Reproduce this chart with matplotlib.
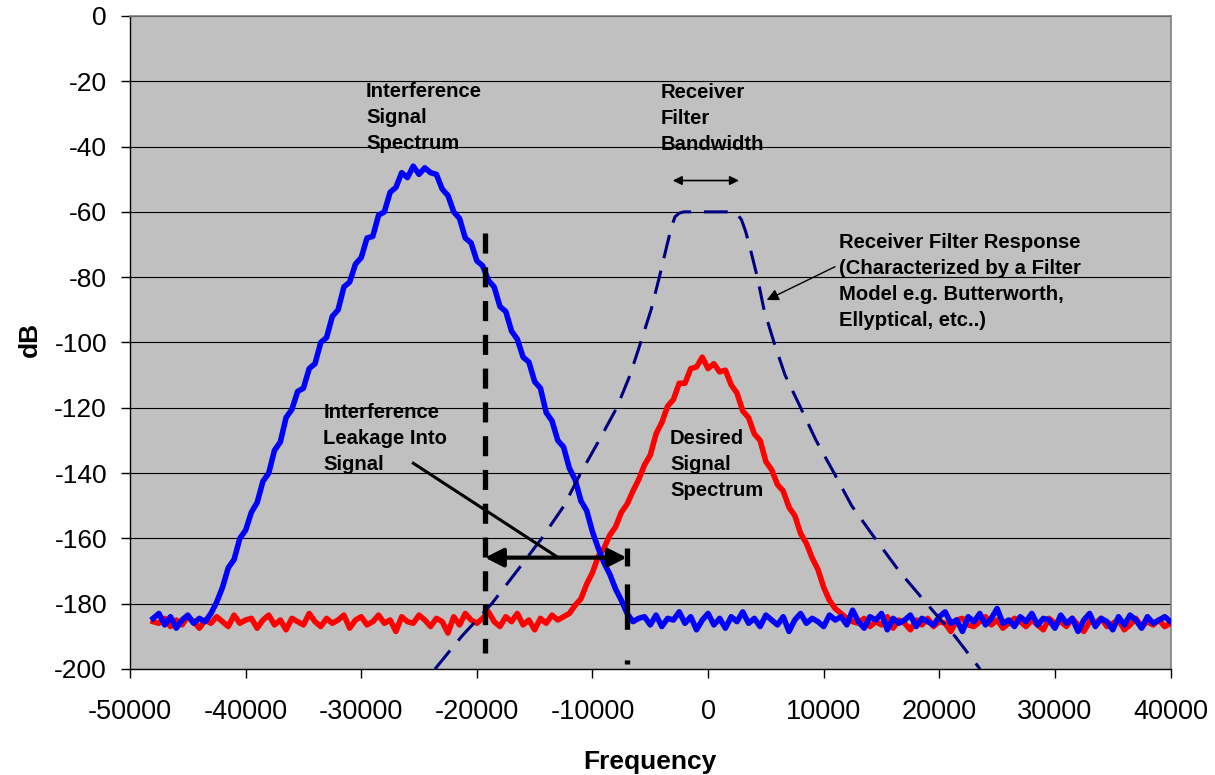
import matplotlib
matplotlib.use("Agg")
import matplotlib.pyplot as plt
import numpy as np
from matplotlib.patches import ArrowStyle

plt.rcParams['font.family'] = ['Liberation Sans', 'DejaVu Sans']

# spectrum bins, 500 Hz apart
freq = np.arange(-48000, 40001, 500)

interference_db = [
    -184.5, -183.0, -186.5, -184.0, -187.5, -185.0, -183.5, -186.0, -184.5, -185.5,
    -183.0, -179.5, -175.0, -169.0, -166.5, -160.0, -157.5, -152.0, -149.0, -142.5,
    -140.0, -133.0, -130.5, -123.0, -120.5, -115.0, -114.0, -108.0, -106.5, -100.0,
    -98.5, -92.0, -90.0, -83.0, -81.5, -76.0, -74.0, -68.0, -67.5, -61.0,
    -60.0, -54.0, -52.5, -48.0, -49.5, -46.0, -48.5, -46.5, -48.0, -48.5,
    -53.0, -55.0, -60.0, -62.0, -68.0, -69.5, -75.0, -76.5, -81.0, -83.0,
    -89.0, -90.5, -96.5, -99.0, -104.5, -106.0, -112.0, -114.0, -121.5, -124.0,
    -130.0, -132.0, -138.5, -142.0, -148.5, -151.5, -158.0, -163.0, -167.5, -171.0,
    -175.5, -179.0, -183.0, -185.5, -184.5,
    -184.0, -186.5, -183.5, -187.0, -184.5, -185.0, -182.5, -186.0, -184.0, -188.0,
    -185.0, -183.0, -186.5, -184.5, -187.5, -184.0, -185.5, -182.5, -186.0, -184.5,
    -187.0, -183.5, -185.0, -186.5, -184.0, -188.5, -185.0, -183.0, -186.0, -184.5,
    -185.5, -187.0, -183.5, -185.0, -184.0, -186.5, -182.0, -185.5, -187.5, -184.0,
    -185.0, -183.0, -188.0, -184.5, -186.0, -185.0, -183.5, -187.0, -184.5, -185.5,
    -186.5, -184.0, -182.5, -186.0, -185.0, -188.5, -184.0, -185.5, -183.0, -186.5,
    -184.5, -181.5, -186.0, -185.0, -187.0, -184.0, -185.5, -183.0, -186.5, -184.5,
    -185.0, -187.5, -183.5, -186.0, -184.5, -188.5, -185.0, -183.0, -187.0, -184.5,
    -185.5, -188.0, -184.0, -186.5, -183.5, -185.0, -187.5, -184.0, -186.0, -185.0,
    -184.0, -185.5,
]

desired_db = [
    -185.5, -186.0, -184.5, -187.0, -185.0, -186.5, -184.0, -185.5, -187.5, -185.0,
    -186.0, -184.0, -185.5, -187.0, -183.5, -186.0, -185.0, -184.5, -187.5, -185.0,
    -183.5, -186.5, -185.0, -188.0, -184.5, -185.5, -186.5, -183.0, -185.5, -187.0,
    -184.5, -186.0, -185.0, -183.5, -187.5, -185.0, -184.0, -186.5, -185.5, -183.5,
    -186.0, -185.0, -188.5, -184.0, -185.5, -186.0, -183.5, -185.0, -187.0, -184.5,
    -185.5, -189.0, -184.0, -186.5, -183.0, -185.0, -186.0, -184.5, -182.5, -185.5,
    -187.0, -184.0, -185.5, -183.0, -186.5, -185.0, -188.0, -184.5, -186.0, -183.5,
    -185.0,
    -184.0, -183.0, -180.5, -178.5, -174.0, -170.5, -165.5, -163.0, -159.0, -156.5,
    -152.0, -149.5, -145.5, -142.0, -137.5, -134.5, -128.0, -124.5, -119.5, -117.5,
    -112.5, -112.5, -108.0, -107.5, -104.5, -108.0, -106.5, -109.0, -108.5, -113.0,
    -115.5, -121.0, -123.0, -128.0, -130.0, -136.5, -139.0, -143.5, -145.5, -150.5,
    -153.0, -158.5, -161.5, -166.0, -169.5, -175.0, -179.0, -181.5, -183.0, -184.5,
    -185.5,
    -186.0, -184.5, -187.0, -185.5, -186.5, -184.0, -187.5, -185.0, -186.0, -188.0,
    -185.0, -186.5, -184.5, -187.0, -185.5, -186.0, -188.5, -185.0, -184.5, -186.5,
    -187.0, -185.5, -184.0, -186.5, -185.0, -187.5, -186.0, -184.5, -185.5, -187.0,
    -185.0, -186.5, -188.0, -184.5, -186.0, -185.5, -187.0, -184.5, -186.5, -188.5,
    -185.5, -186.0, -184.5, -187.0, -186.0, -185.0, -188.0, -186.5, -184.5, -187.0,
    -185.5, -186.5, -185.0, -187.0, -186.0,
]

filter_freq = [-23620, -21310, -18710, -16530, -14390, -12460, -11015, -9430, -7900,
               -6750, -5830, -4930, -4215, -3540, -3150, -2860, -2500, -2100,
               2000, 2500, 2900, 3250, 3700, 4260, 4840, 5706, 6660, 8010, 9340,
               10900, 12420, 14440, 16520, 18910, 21360, 23520]
filter_db = [-200, -190, -180, -170, -160, -150, -140, -130, -120,
             -110, -100, -90, -80, -70, -64.5, -61.5, -60.4, -60,
             -60, -60.5, -62.5, -66, -72, -80, -90, -100, -110, -120, -130,
             -140, -150, -160, -170, -180, -190, -200]

# markers on the chart
leak_left, leak_right = -19300, -7040
leak_arrow_db = -165.9
bw_left, bw_right, bw_db = -3060, 2680, -50.4

x_ticks = list(range(-50000, 40001, 10000))
y_ticks = list(range(-200, 1, 20))

fig = plt.figure(figsize=(12.15, 7.75), dpi=100)
ax = fig.add_axes([0.107, 0.1368, 0.8564, 0.8426])
ax.set_facecolor('#c0c0c0')

ax.plot(freq, desired_db, color='#ff0000', lw=4.0, solid_joinstyle='round', zorder=3)
ax.plot(freq, interference_db, color='#0000ff', lw=4.0, solid_joinstyle='round', zorder=4)
ax.plot(filter_freq, filter_db, color='#000080', lw=2.2, ls=(0, (7.8, 4.2)), zorder=5)

# leakage band markers
ax.plot([leak_left, leak_left], [-66.5, -195.1], color='black', lw=3.8,
        ls=(0, (3.8, 2.6)), zorder=6)
ax.plot([leak_right, leak_right], [-163, -198.6], color='black', lw=3.8,
        ls=(0, (3.4, 3.4, 8.6, 5.8, 1.0, 20)), zorder=6)
ax.annotate('', xy=(leak_left, leak_arrow_db), xytext=(leak_right, leak_arrow_db),
            arrowprops=dict(arrowstyle=ArrowStyle('<|-|>', head_length=0.55, head_width=0.28),
                            mutation_scale=20, color='black', lw=3, shrinkA=0, shrinkB=0),
            zorder=7)
ax.plot([-25490, -13090], [-137.0, -165.6], color='black', lw=2.2, zorder=7)

# filter bandwidth arrow
ax.annotate('', xy=(bw_left, bw_db), xytext=(bw_right, bw_db),
            arrowprops=dict(arrowstyle=ArrowStyle('<|-|>', head_length=0.45, head_width=0.22),
                            mutation_scale=12, color='black', lw=1.2, shrinkA=0, shrinkB=0))
# filter response pointer
ax.annotate('', xy=(5070, -87.0), xytext=(10980, -76.8),
            arrowprops=dict(arrowstyle=ArrowStyle('-|>', head_length=0.5, head_width=0.25),
                            mutation_scale=14, color='black', lw=1.0, shrinkA=0, shrinkB=0))

txt = dict(fontsize=14.6, fontweight='bold', ha='left', va='top', linespacing=1.48,
           color='black', zorder=8)
ax.text(-29590, -20.2, 'Interference\nSignal\nSpectrum', **txt)
ax.text(-4100, -20.4, 'Receiver\nFilter\nBandwidth', **txt)
ax.text(11350, -66.4, 'Receiver Filter Response\n(Characterized by a Filter\n'
        'Model e.g. Butterworth,\nEllyptical, etc..)', **txt)
ax.text(-33280, -118.4, 'Interference\nLeakage Into\nSignal', **txt)
ax.text(-3300, -126.4, 'Desired\nSignal\nSpectrum', **txt)

ax.set_xlim(-50000, 40000)
ax.set_ylim(-200, 0)
ax.set_xticks(x_ticks)
ax.set_xticklabels([str(t) for t in x_ticks])
ax.set_yticks(y_ticks)
ax.set_yticklabels([str(t) for t in y_ticks])
ax.tick_params(axis='x', direction='out', length=6.5, width=1, pad=15, labelsize=19.5)
ax.tick_params(axis='y', direction='out', length=6.5, width=1, pad=10, labelsize=19)

ax.yaxis.grid(True, color='black', lw=0.8)
ax.xaxis.grid(False)
ax.set_axisbelow(True)
for side in ['top', 'right']:
    ax.spines[side].set_color('#808080')
    ax.spines[side].set_linewidth(1.2)
for side in ['left', 'bottom']:
    ax.spines[side].set_color('black')
    ax.spines[side].set_linewidth(1.0)

fig.text(650 / 1215, 1 - 762 / 775, 'Frequency', fontsize=19, fontweight='bold',
         ha='center', va='center')
fig.text(30 / 1215, 1 - 339 / 775, 'dB', fontsize=19, fontweight='bold',
         ha='center', va='center', rotation=90)

fig.savefig('out.png', dpi=100)
